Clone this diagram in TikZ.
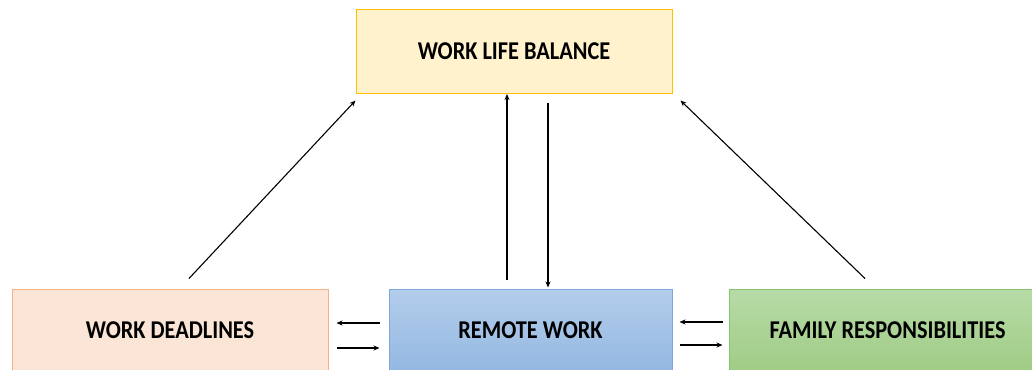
\documentclass[tikz,border=0pt]{standalone}
\usepackage{fontspec}
\setmainfont{Carlito}
\usetikzlibrary{arrows.meta}
\definecolor{wlbfill}{HTML}{FFF2CC}
\definecolor{wlbline}{HTML}{FFC000}
\definecolor{wdfill}{HTML}{FBE5D6}
\definecolor{wdline}{HTML}{F4B183}
\definecolor{rwtop}{HTML}{B3CDEB}
\definecolor{rwbot}{HTML}{94B8E2}
\definecolor{rwline}{HTML}{7BA7D9}
\definecolor{frtop}{HTML}{B7DBA7}
\definecolor{frbot}{HTML}{9FCC85}
\definecolor{frline}{HTML}{8BC26F}
% box captions, set slightly taller than wide
\newcommand\boxcaption[1]{\scalebox{1}[1.15]{#1}}
\tikzset{
  box/.style={rectangle, draw, line width=1pt, minimum height=83pt,
    font=\fontsize{22.3}{25}\selectfont\bfseries, text=black, inner sep=0pt},
  arr/.style={-{Stealth[length=6pt,width=5pt]}, line width=1.1pt, black},
  thickarr/.style={-{Stealth[length=6pt,width=5pt]}, line width=1.7pt, black}
}
\begin{document}
\begin{tikzpicture}[x=1pt,y=-1pt]
\useasboundingbox (0,0) rectangle (1032,369);
\fill[white] (0,0) rectangle (1032,369);
\begin{scope}
\clip (0,0) rectangle (1032,369);
\node[box, fill=wlbfill, draw=wlbline, minimum width=316pt] (wlb) at (514,51.5) {\boxcaption{WORK LIFE BALANCE}};
\node[box, fill=wdfill, draw=wdline, minimum width=316pt] (wd) at (170,330.5) {\boxcaption{WORK DEADLINES}};
\node[box, top color=rwtop, bottom color=rwbot, draw=rwline, minimum width=283pt] (rw) at (530.5,330.5) {\boxcaption{REMOTE WORK}};
\node[box, top color=frtop, bottom color=frbot, draw=frline, minimum width=317pt] (fr) at (887.5,330.5) {\boxcaption{FAMILY RESPONSIBILITIES}};
\end{scope}
% links to the top box
\draw[arr] ([shift={(19,-10)}]wd.north) -- ([shift={(0,7)}]wlb.south west);
\draw[arr] ([shift={(-23.5,-9)}]rw.north) -- ([shift={(-7,0.5)}]wlb.south);
\draw[arr] ([shift={(34,9)}]wlb.south) -- ([shift={(17.5,-1)}]rw.north);
\draw[arr] ([shift={(-22.5,-10)}]fr.north) -- ([shift={(8,7)}]wlb.south east);
% two-way links along the bottom row
\draw[arr] ([shift={(-9,-7.5)}]rw.west) -- ([shift={(8,-7.5)}]wd.east);
\draw[arr] ([shift={(8,17.5)}]wd.east) -- ([shift={(-9,17.5)}]rw.west);
\draw[thickarr] ([shift={(-6,-8.5)}]fr.west) -- ([shift={(7,-8.5)}]rw.east);
\draw[thickarr] ([shift={(7,14.5)}]rw.east) -- ([shift={(-6,14.5)}]fr.west);
\end{tikzpicture}
\end{document}
